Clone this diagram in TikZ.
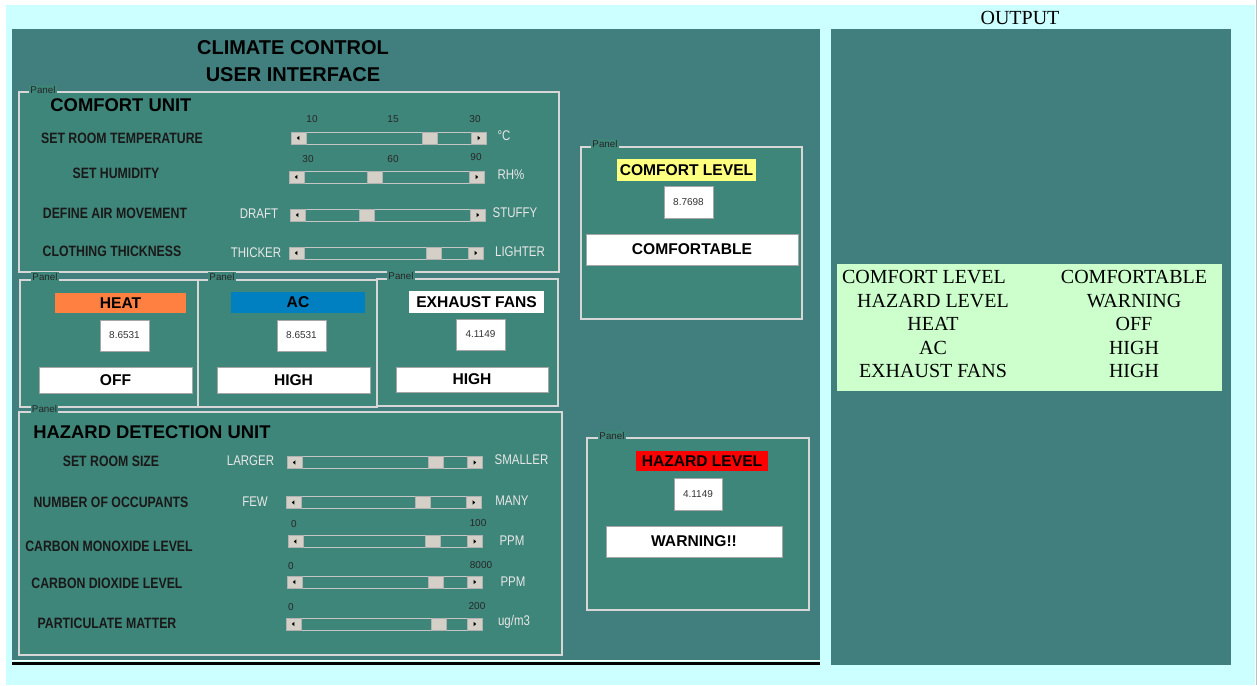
\documentclass[tikz,border=0pt]{standalone}
\usepackage{fontspec}
\setmainfont{Liberation Serif}
\setsansfont{Liberation Sans}
\usepackage{graphicx}
\usetikzlibrary{fit}

\definecolor{sky}{RGB}{204,255,255}
\definecolor{teal0}{RGB}{65,126,126}
\definecolor{teal1}{RGB}{63,134,122}
\definecolor{etch}{RGB}{215,215,215}
\definecolor{knob}{RGB}{212,208,200}
\definecolor{mint}{RGB}{204,255,204}
\definecolor{heatc}{RGB}{255,128,64}
\definecolor{acc}{RGB}{0,128,192}
\definecolor{lemon}{RGB}{255,255,128}
\definecolor{hazc}{RGB}{255,0,0}
\definecolor{dim}{RGB}{232,232,232}

\newcommand{\squeezed}[1]{\scalebox{0.82}[1]{#1}}

\tikzset{
  panel/.style={
    draw=etch,
    line width=0.6pt,
    fill=teal1,
    inner sep=0pt
  },
  paneltag/.style={
    fill=teal1,
    inner sep=0.6pt,
    font=\sffamily\fontsize{4.9}{5}\selectfont,
    text=black!85
  },
  heading/.style={
    font=\sffamily\bfseries\fontsize{9.2}{10}\selectfont,
    anchor=west,
    inner sep=0pt
  },
  rowlbl/.style={
    font=\sffamily\bfseries\fontsize{7.5}{8}\selectfont,
    text=black!90,
    inner sep=0pt
  },
  endlbl/.style={
    font=\sffamily\fontsize{7}{8}\selectfont,
    text=dim,
    inner sep=0pt
  },
  tick/.style={
    font=\sffamily\fontsize{5}{6}\selectfont,
    text=black!85,
    inner sep=0pt
  },
  boldtxt/.style={
    font=\sffamily\bfseries\fontsize{7.8}{9}\selectfont,
    inner sep=0pt
  },
  numtxt/.style={
    font=\sffamily\fontsize{5}{6}\selectfont,
    text=black!80,
    inner sep=0pt
  },
  tag/.style={
    inner sep=0pt,
    label={[boldtxt]center:#1}
  },
  valbox/.style={
    draw=gray!70,
    fill=white,
    inner sep=0pt,
    label={[numtxt]center:#1}
  },
  btn/.style={
    draw=gray!70,
    fill=white,
    inner sep=0pt,
    label={[boldtxt]center:#1}
  },
  track/.style={
    draw=gray!45,
    line width=0.5pt,
    inner sep=0pt
  },
  knobbox/.style={
    draw=gray!60,
    fill=knob,
    line width=0.4pt,
    minimum width=7.5pt,
    minimum height=6pt,
    inner sep=0pt
  },
  sbtnl/.style={
    knobbox,
    path picture={\fill[black] ([xshift=-0.8pt]path picture bounding box.center) -- ++(1.3pt,1.1pt) -- ++(0,-2.2pt) -- cycle;}
  },
  sbtnr/.style={
    knobbox,
    path picture={\fill[black] ([xshift=0.8pt]path picture bounding box.center) -- ++(-1.3pt,1.1pt) -- ++(0,-2.2pt) -- cycle;}
  },
  thumb/.style={
    knobbox
  },
  outtxt/.style={
    font=\fontsize{10}{12}\selectfont,
    inner sep=0pt
  }
}

\begin{document}
\begin{tikzpicture}[x=0.5pt, y=-0.5pt]
  \useasboundingbox (0,0) rectangle (1257,685);
  \fill[white] (0,0) rectangle (1257,685);
  \fill[sky] (6,5) rectangle (1255,685);
  \draw[gray!50] (1256,0) -- (1256,685);

  % main window
  \fill[teal0] (12,29) rectangle (820,660);
  \draw[white, line width=0.6pt] (12,660.5) -- (820,660.5);
  \draw[black, line width=1.5pt] (12,663) -- (820,663);
  \node[font=\sffamily\bfseries\fontsize{10}{12}\selectfont] (title1) at (293,48) {CLIMATE CONTROL};
  \node[font=\sffamily\bfseries\fontsize{10}{12}\selectfont] (title2) at (293,75) {USER INTERFACE};

  % output side
  \node[outtxt] (outhead) at (1020,18) {OUTPUT};
  \fill[teal0] (831,29) rectangle (1231,665);
  \node[fill=mint, inner sep=0pt, fit={(837,264)(1222,391)}] (outtab) {};
  \node[outtxt] (o1l) at (924,277) {COMFORT LEVEL};
  \node[outtxt] (o2l) at (933,301) {HAZARD LEVEL};
  \node[outtxt] (o3l) at (933,324) {HEAT};
  \node[outtxt] (o4l) at (933,348) {AC};
  \node[outtxt] (o5l) at (933,371) {EXHAUST FANS};
  \node[outtxt] (o1r) at (1134,277) {COMFORTABLE};
  \node[outtxt] (o2r) at (1134,301) {WARNING};
  \node[outtxt] (o3r) at (1134,324) {OFF};
  \node[outtxt] (o4r) at (1134,348) {HIGH};
  \node[outtxt] (o5r) at (1134,371) {HIGH};

  % panels
  \node[panel, fit={(19,92)(559,272)}] (comfortunit) {};
  \node[panel, fit={(20,280)(198,407)}] (heatpanel) {};
  \node[panel, fit={(198,280)(377,407)}] (acpanel) {};
  \node[panel, fit={(377,279)(558,406)}] (fanpanel) {};
  \node[panel, fit={(19,412)(562,655)}] (hazardunit) {};
  \node[panel, fit={(581,147)(802,319)}] (clpanel) {};
  \node[panel, fit={(587,438)(809,610)}] (hlpanel) {};
  \node[paneltag] (t1) at (43,90) {Panel};
  \node[paneltag] (t2) at (45,277) {Panel};
  \node[paneltag] (t3) at (222,277) {Panel};
  \node[paneltag] (t4) at (401,276) {Panel};
  \node[paneltag] (t5) at (44.5,409) {Panel};
  \node[paneltag] (t6) at (605,144) {Panel};
  \node[paneltag] (t7) at (612,436) {Panel};

  % comfort unit
  \node[heading] (cuhead) at (50,105) {COMFORT UNIT};
  \node[rowlbl] (tempname) at (122,138) {\squeezed{SET ROOM TEMPERATURE}};
  \node[rowlbl] (humname) at (116,173) {\squeezed{SET HUMIDITY}};
  \node[rowlbl] (airname) at (115,213) {\squeezed{DEFINE AIR MOVEMENT}};
  \node[rowlbl] (clothname) at (112,251) {\squeezed{CLOTHING THICKNESS}};

  \node[track, fit={(291,132)(486,144)}] (tempT) {};
  \node[sbtnl, anchor=west] (tempL) at (tempT.west) {};
  \node[sbtnr, anchor=east] (tempR) at (tempT.east) {};
  \node[thumb] (tempK) at (430,138) {};
  \node[tick] (temp10) at (312,119) {10};
  \node[tick] (temp15) at (393,119) {15};
  \node[tick] (temp30) at (475,119) {30};
  \node[endlbl] (tempunit) at (504,136) {\squeezed{°C}};

  \node[track, fit={(289,171)(484,183)}] (humT) {};
  \node[sbtnl, anchor=west] (humL) at (humT.west) {};
  \node[sbtnr, anchor=east] (humR) at (humT.east) {};
  \node[thumb] (humK) at (375,177) {};
  \node[tick] (hum30) at (308,159) {30};
  \node[tick] (hum60) at (393,159) {60};
  \node[tick] (hum90) at (476,157) {90};
  \node[endlbl] (humunit) at (511,175) {\squeezed{RH\%}};

  \node[track, fit={(290,209)(485,221)}] (airT) {};
  \node[sbtnl, anchor=west] (airL) at (airT.west) {};
  \node[sbtnr, anchor=east] (airR) at (airT.east) {};
  \node[thumb] (airK) at (367,215) {};
  \node[endlbl] (airlo) at (259,214) {\squeezed{DRAFT}};
  \node[endlbl] (airhi) at (515,213) {\squeezed{STUFFY}};

  \node[track, fit={(289,247)(483,259)}] (clothT) {};
  \node[sbtnl, anchor=west] (clothL) at (clothT.west) {};
  \node[sbtnr, anchor=east] (clothR) at (clothT.east) {};
  \node[thumb] (clothK) at (434,253) {};
  \node[endlbl] (clothlo) at (256,253) {\squeezed{THICKER}};
  \node[endlbl] (clothhi) at (520,252) {\squeezed{LIGHTER}};

  % heat, ac, fans
  \node[tag=HEAT, fill=heatc, fit={(55,293)(186,313)}] (heattag) {};
  \node[valbox=8.6531, fit={(100,320)(149,351)}] (heatval) {};
  \node[btn=OFF, fit={(39,367)(192,393)}] (heatbtn) {};
  \node[tag=AC, fill=acc, fit={(231,292)(365,313)}] (actag) {};
  \node[valbox=8.6531, fit={(277,320)(326,351)}] (acval) {};
  \node[btn=HIGH, fit={(217,367)(370,393)}] (acbtn) {};
  \node[tag=EXHAUST FANS, fill=white, fit={(409,291)(544,313)}] (fantag) {};
  \node[valbox=4.1149, fit={(456,319)(505,350)}] (fanval) {};
  \node[btn=HIGH, fit={(396,367)(548,392)}] (fanbtn) {};

  % hazard detection unit
  \node[heading] (huhead) at (33,432) {HAZARD DETECTION UNIT};
  \node[rowlbl] (sizename) at (111,461) {\squeezed{SET ROOM SIZE}};
  \node[rowlbl] (occname) at (111,502) {\squeezed{NUMBER OF OCCUPANTS}};
  \node[rowlbl] (coname) at (109,546) {\squeezed{CARBON MONOXIDE LEVEL}};
  \node[rowlbl] (cotwoname) at (107,583) {\squeezed{CARBON DIOXIDE LEVEL}};
  \node[rowlbl] (pmname) at (107,623) {\squeezed{PARTICULATE MATTER}};

  \node[track, fit={(287,456.5)(482,468.5)}] (sizeT) {};
  \node[sbtnl, anchor=west] (sizeL) at (sizeT.west) {};
  \node[sbtnr, anchor=east] (sizeR) at (sizeT.east) {};
  \node[thumb] (sizeK) at (436,462.5) {};
  \node[endlbl] (sizelo) at (250.5,461) {\squeezed{LARGER}};
  \node[endlbl] (sizehi) at (521.5,460) {\squeezed{SMALLER}};

  \node[track, fit={(286,496.5)(481,508.5)}] (occT) {};
  \node[sbtnl, anchor=west] (occL) at (occT.west) {};
  \node[sbtnr, anchor=east] (occR) at (occT.east) {};
  \node[thumb] (occK) at (423,502.5) {};
  \node[endlbl] (occlo) at (255,502) {\squeezed{FEW}};
  \node[endlbl] (occhi) at (512,501) {\squeezed{MANY}};

  \node[track, fit={(288,535.5)(482,547.5)}] (coT) {};
  \node[sbtnl, anchor=west] (coL) at (coT.west) {};
  \node[sbtnr, anchor=east] (coR) at (coT.east) {};
  \node[thumb] (coK) at (433,541.5) {};
  \node[tick] (co0) at (294,524) {0};
  \node[tick] (co100) at (478,523) {100};
  \node[endlbl] (counit) at (512,541) {\squeezed{PPM}};

  \node[track, fit={(287,576)(482,588)}] (cotwoT) {};
  \node[sbtnl, anchor=west] (cotwoL) at (cotwoT.west) {};
  \node[sbtnr, anchor=east] (cotwoR) at (cotwoT.east) {};
  \node[thumb] (cotwoK) at (436,582) {};
  \node[tick] (cotwo0) at (291,566) {0};
  \node[tick] (cotwo8000) at (481,565) {8000};
  \node[endlbl] (cotwounit) at (513,582) {\squeezed{PPM}};

  \node[track, fit={(286,618)(482,630)}] (pmT) {};
  \node[sbtnl, anchor=west] (pmL) at (pmT.west) {};
  \node[sbtnr, anchor=east] (pmR) at (pmT.east) {};
  \node[thumb] (pmK) at (439,624) {};
  \node[tick] (pm0) at (291,607) {0};
  \node[tick] (pm200) at (477,606) {200};
  \node[endlbl] (pmunit) at (514,622) {\squeezed{ug/m3}};

  % levels
  \node[tag=COMFORT LEVEL, fill=lemon, fit={(617,159)(756,181)}] (cltag) {};
  \node[valbox=8.7698, fit={(664,186)(713,218)}] (clval) {};
  \node[btn=COMFORTABLE, fit={(586,234)(798,265)}] (clbtn) {};
  \node[tag=HAZARD LEVEL, fill=hazc, fit={(636,451)(768,471)}] (hltag) {};
  \node[valbox=4.1149, fit={(674,478)(722,510)}] (hlval) {};
  \node[btn=WARNING!!, fit={(606,526)(782,557)}] (hlbtn) {};
\end{tikzpicture}
\end{document}
